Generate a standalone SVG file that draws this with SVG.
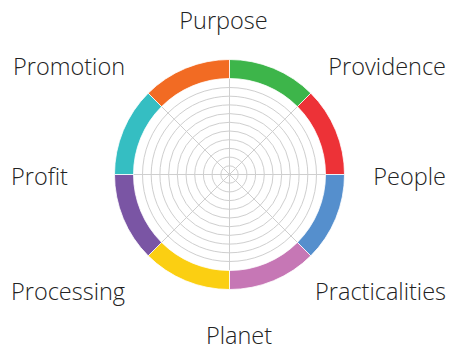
<svg xmlns="http://www.w3.org/2000/svg" width="449" height="351" viewBox="0 0 449 351">
  <style>
    .lbl { font-family: "Open Sans", "Noto Sans", "Liberation Sans", sans-serif; font-size: 23.5px; font-weight: 300; fill: #222222; }
    .grid { fill: none; stroke: #cfcfcf; stroke-width: 1; }
    .seg { stroke: #ffffff; stroke-width: 0.8; }
  </style>
  <rect width="449" height="351" fill="#ffffff"/>

  <!-- grid: concentric rings and spokes -->
  <g id="grid" class="grid">
    <circle cx="229.5" cy="174.5" r="8.7"/>
    <circle cx="229.5" cy="174.5" r="17.4"/>
    <circle cx="229.5" cy="174.5" r="26.1"/>
    <circle cx="229.5" cy="174.5" r="34.8"/>
    <circle cx="229.5" cy="174.5" r="43.5"/>
    <circle cx="229.5" cy="174.5" r="52.2"/>
    <circle cx="229.5" cy="174.5" r="60.9"/>
    <circle cx="229.5" cy="174.5" r="69.6"/>
    <circle cx="229.5" cy="174.5" r="78.3"/>
    <circle cx="229.5" cy="174.5" r="87"/>
    <line x1="229.5" y1="78.5" x2="229.5" y2="270.5"/>
    <line x1="133.5" y1="174.5" x2="325.5" y2="174.5"/>
    <line x1="161.6" y1="106.6" x2="297.4" y2="242.4"/>
    <line x1="297.4" y1="106.6" x2="161.6" y2="242.4"/>
  </g>

  <!-- coloured outer ring, eight segments -->
  <g id="ring">
    <path id="seg-purpose" class="seg" fill="#3db54a" d="M229.5,59.5 A115,115 0 0 1 310.817,93.183 L297.382,106.618 A96,96 0 0 0 229.5,78.5 Z"/>
    <path id="seg-providence" class="seg" fill="#ed3237" d="M310.817,93.183 A115,115 0 0 1 344.5,174.5 L325.5,174.5 A96,96 0 0 0 297.382,106.618 Z"/>
    <path id="seg-people" class="seg" fill="#558fcd" d="M344.5,174.5 A115,115 0 0 1 310.817,255.817 L297.382,242.382 A96,96 0 0 0 325.5,174.5 Z"/>
    <path id="seg-practicalities" class="seg" fill="#c677b5" d="M310.817,255.817 A115,115 0 0 1 229.5,289.5 L229.5,270.5 A96,96 0 0 0 297.382,242.382 Z"/>
    <path id="seg-planet" class="seg" fill="#fbcf12" d="M229.5,289.5 A115,115 0 0 1 148.183,255.817 L161.618,242.382 A96,96 0 0 0 229.5,270.5 Z"/>
    <path id="seg-processing" class="seg" fill="#7a55a4" d="M148.183,255.817 A115,115 0 0 1 114.5,174.5 L133.5,174.5 A96,96 0 0 0 161.618,242.382 Z"/>
    <path id="seg-profit" class="seg" fill="#35bec2" d="M114.5,174.5 A115,115 0 0 1 148.183,93.183 L161.618,106.618 A96,96 0 0 0 133.5,174.5 Z"/>
    <path id="seg-promotion" class="seg" fill="#f26b23" d="M148.183,93.183 A115,115 0 0 1 229.5,59.5 L229.5,78.5 A96,96 0 0 0 161.618,106.618 Z"/>
  </g>

  <!-- labels -->
  <g id="labels">
    <text id="lbl-purpose" class="lbl" x="223.5" y="29" text-anchor="middle">Purpose</text>
    <text id="lbl-promotion" class="lbl" x="13" y="75">Promotion</text>
    <text id="lbl-providence" class="lbl" x="446" y="75" text-anchor="end">Providence</text>
    <text id="lbl-profit" class="lbl" x="11" y="185">Profit</text>
    <text id="lbl-people" class="lbl" x="446" y="185" text-anchor="end">People</text>
    <text id="lbl-processing" class="lbl" x="11" y="300">Processing</text>
    <text id="lbl-practicalities" class="lbl" x="446" y="300" text-anchor="end">Practicalities</text>
    <text id="lbl-planet" class="lbl" x="239" y="344" text-anchor="middle">Planet</text>
  </g>
</svg>
